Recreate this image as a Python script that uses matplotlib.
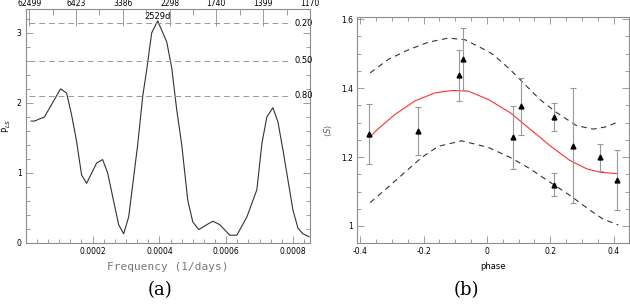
import matplotlib.pyplot as plt
from matplotlib.ticker import MultipleLocator, FixedLocator
import numpy as np

# ---- panel (a): Lomb-Scargle periodogram ----
freq = [1.6e-5, 2.6e-5, 5.6e-5, 1.04e-4, 1.22e-4, 1.37e-4, 1.52e-4, 1.67e-4,
        1.82e-4, 2.12e-4, 2.30e-4, 2.45e-4, 2.78e-4, 2.93e-4, 3.08e-4, 3.35e-4,
        3.50e-4, 3.62e-4, 3.77e-4, 3.95e-4, 4.22e-4, 4.37e-4, 4.52e-4, 4.67e-4,
        4.85e-4, 5.00e-4, 5.18e-4, 5.42e-4, 5.60e-4, 5.81e-4, 6.11e-4, 6.32e-4,
        6.62e-4, 6.92e-4, 7.07e-4, 7.22e-4, 7.40e-4, 7.55e-4, 7.70e-4, 7.85e-4,
        8.00e-4, 8.15e-4, 8.30e-4, 8.48e-4]
power = [1.74, 1.74, 1.80, 2.20, 2.14, 1.83, 1.45, 0.97,
         0.85, 1.14, 1.19, 1.00, 0.26, 0.13, 0.37, 1.40,
         2.09, 2.47, 3.00, 3.17, 2.87, 2.50, 1.90, 1.40,
         0.61, 0.30, 0.19, 0.26, 0.31, 0.26, 0.11, 0.11,
         0.37, 0.76, 1.42, 1.80, 1.93, 1.73, 1.33, 0.90,
         0.47, 0.21, 0.13, 0.09]
fap_levels = [3.14, 2.60, 2.10]
fap_labels = ['0.20', '0.50', '0.80']
period_labels = ['62499', '6423', '3386', '2298', '1740', '1399', '1170']
peak_label = '2529d'

# ---- panel (b): phased data ----
phase = [-0.372, -0.217, -0.087, -0.077, 0.083, 0.107, 0.213, 0.213, 0.273, 0.357, 0.411]
S = [1.268, 1.276, 1.437, 1.484, 1.257, 1.347, 1.317, 1.120, 1.233, 1.199, 1.132]
S_err = [0.087, 0.070, 0.074, 0.089, 0.092, 0.083, 0.041, 0.033, 0.167, 0.040, 0.087]

fit_ph = [-0.372, -0.345, -0.29, -0.227, -0.164, -0.111, -0.059, 0.004,
          0.073, 0.136, 0.199, 0.262, 0.315, 0.357, 0.411]
fit_S = [1.256, 1.281, 1.324, 1.363, 1.386, 1.393, 1.391, 1.367,
         1.329, 1.281, 1.233, 1.190, 1.166, 1.156, 1.152]

up_ph = [-0.369, -0.312, -0.248, -0.185, -0.122, -0.069, 0.004, 0.020, 0.073,
         0.115, 0.167, 0.220, 0.283, 0.336, 0.378, 0.415]
up_S = [1.444, 1.483, 1.511, 1.533, 1.545, 1.540, 1.506, 1.497, 1.454,
        1.415, 1.367, 1.329, 1.291, 1.281, 1.288, 1.302]

lo_ph = [-0.369, -0.312, -0.259, -0.206, -0.154, -0.080, 0.004, 0.073,
         0.136, 0.199, 0.262, 0.325, 0.367, 0.415]
lo_S = [1.068, 1.113, 1.156, 1.199, 1.231, 1.247, 1.228, 1.199,
        1.166, 1.127, 1.089, 1.046, 1.020, 1.003]

frame = '#8c8c8c'


def style_axes(ax):
    for sp in ax.spines.values():
        sp.set_color(frame)
        sp.set_linewidth(0.8)
    ax.tick_params(which='both', direction='in', color=frame, width=0.6,
                   labelsize=5.5, pad=3, top=True, right=True)
    ax.tick_params(which='major', length=5)
    ax.tick_params(which='minor', length=3)


fig = plt.figure(figsize=(6.3, 3.04), dpi=100)

# (a)
ax1 = fig.add_axes([0.041, 0.201, 0.451, 0.770])
xmin, xmax = 0.0, 8.51e-4
ax1.plot(freq, power, color='#333333', lw=0.8)
for lev, lab in zip(fap_levels, fap_labels):
    ax1.plot([1.0e-5, 7.9e-4], [lev, lev], color='#999999', lw=0.7, ls=(0, (6, 4)))
    ax1.text(8.06e-4, lev, lab, fontsize=6, va='center', ha='left')
ax1.text(3.954e-4, 3.24, peak_label, fontsize=6, ha='center', va='center')
ax1.set_xlim(xmin, xmax)
ax1.set_ylim(0, 3.343)
style_axes(ax1)
ax1.tick_params(top=False)
ax1.xaxis.set_major_locator(FixedLocator([0.0002, 0.0004, 0.0006, 0.0008]))
ax1.xaxis.set_minor_locator(MultipleLocator(0.0002 / 6))
ax1.xaxis.set_major_formatter(plt.FuncFormatter(lambda v, p: '%.4f' % v))
ax1.yaxis.set_major_locator(FixedLocator([0, 1, 2, 3]))
ax1.yaxis.set_minor_locator(MultipleLocator(0.2))
ax1.set_xlabel('Frequency (1/days)', family='DejaVu Sans Mono', fontsize=8,
               color='#777777', labelpad=4)
ax1.set_ylabel(r'P$_{LS}$', fontsize=6, labelpad=3)

top = ax1.twiny()
top.set_xlim(xmin, xmax)
top_pos = np.linspace(1.0e-5, xmax, 7)
top.xaxis.set_major_locator(FixedLocator(top_pos))
top.xaxis.set_minor_locator(FixedLocator(np.linspace(1.0e-5, xmax, 13)))
top.set_xticklabels(period_labels)
for sp in top.spines.values():
    sp.set_visible(False)
top.tick_params(which='both', direction='in', color=frame, width=0.6,
                labelsize=5.5, pad=0.3)
top.tick_params(which='major', length=12)
top.tick_params(which='minor', length=4)

fig.text(0.254, 0.03, '(a)', family='DejaVu Serif', fontsize=13, ha='center')

# (b)
ax2 = fig.add_axes([0.567, 0.201, 0.432, 0.743])
ax2.plot(up_ph, up_S, color='#333333', lw=0.8, ls=(0, (5, 4)))
ax2.plot(lo_ph, lo_S, color='#333333', lw=0.8, ls=(0, (5, 4)))
ax2.plot(fit_ph, fit_S, color='#ff3030', lw=0.8)
ax2.errorbar(phase, S, yerr=S_err, fmt='none', ecolor='#999999', elinewidth=0.8,
             capsize=2.5, capthick=0.8)
ax2.plot(phase, S, ls='none', marker='^', ms=3.5, color='black')
ax2.set_xlim(-0.41, 0.45)
ax2.set_ylim(0.951, 1.606)
style_axes(ax2)
ax2.xaxis.set_major_locator(MultipleLocator(0.2))
ax2.xaxis.set_minor_locator(MultipleLocator(0.05))
ax2.yaxis.set_major_locator(MultipleLocator(0.2))
ax2.yaxis.set_minor_locator(MultipleLocator(0.05))
ax2.xaxis.set_major_formatter(plt.FuncFormatter(lambda v, p: '%g' % round(v, 2)))
ax2.yaxis.set_major_formatter(plt.FuncFormatter(lambda v, p: '%g' % round(v, 2)))
ax2.set_xlabel('phase', fontsize=6, labelpad=4)
ax2.set_ylabel(r'$\langle S\rangle$', fontsize=6, color='#555555', labelpad=5)

fig.text(0.741, 0.03, '(b)', family='DejaVu Serif', fontsize=13, ha='center')

fig.savefig('out.png', dpi=100)
